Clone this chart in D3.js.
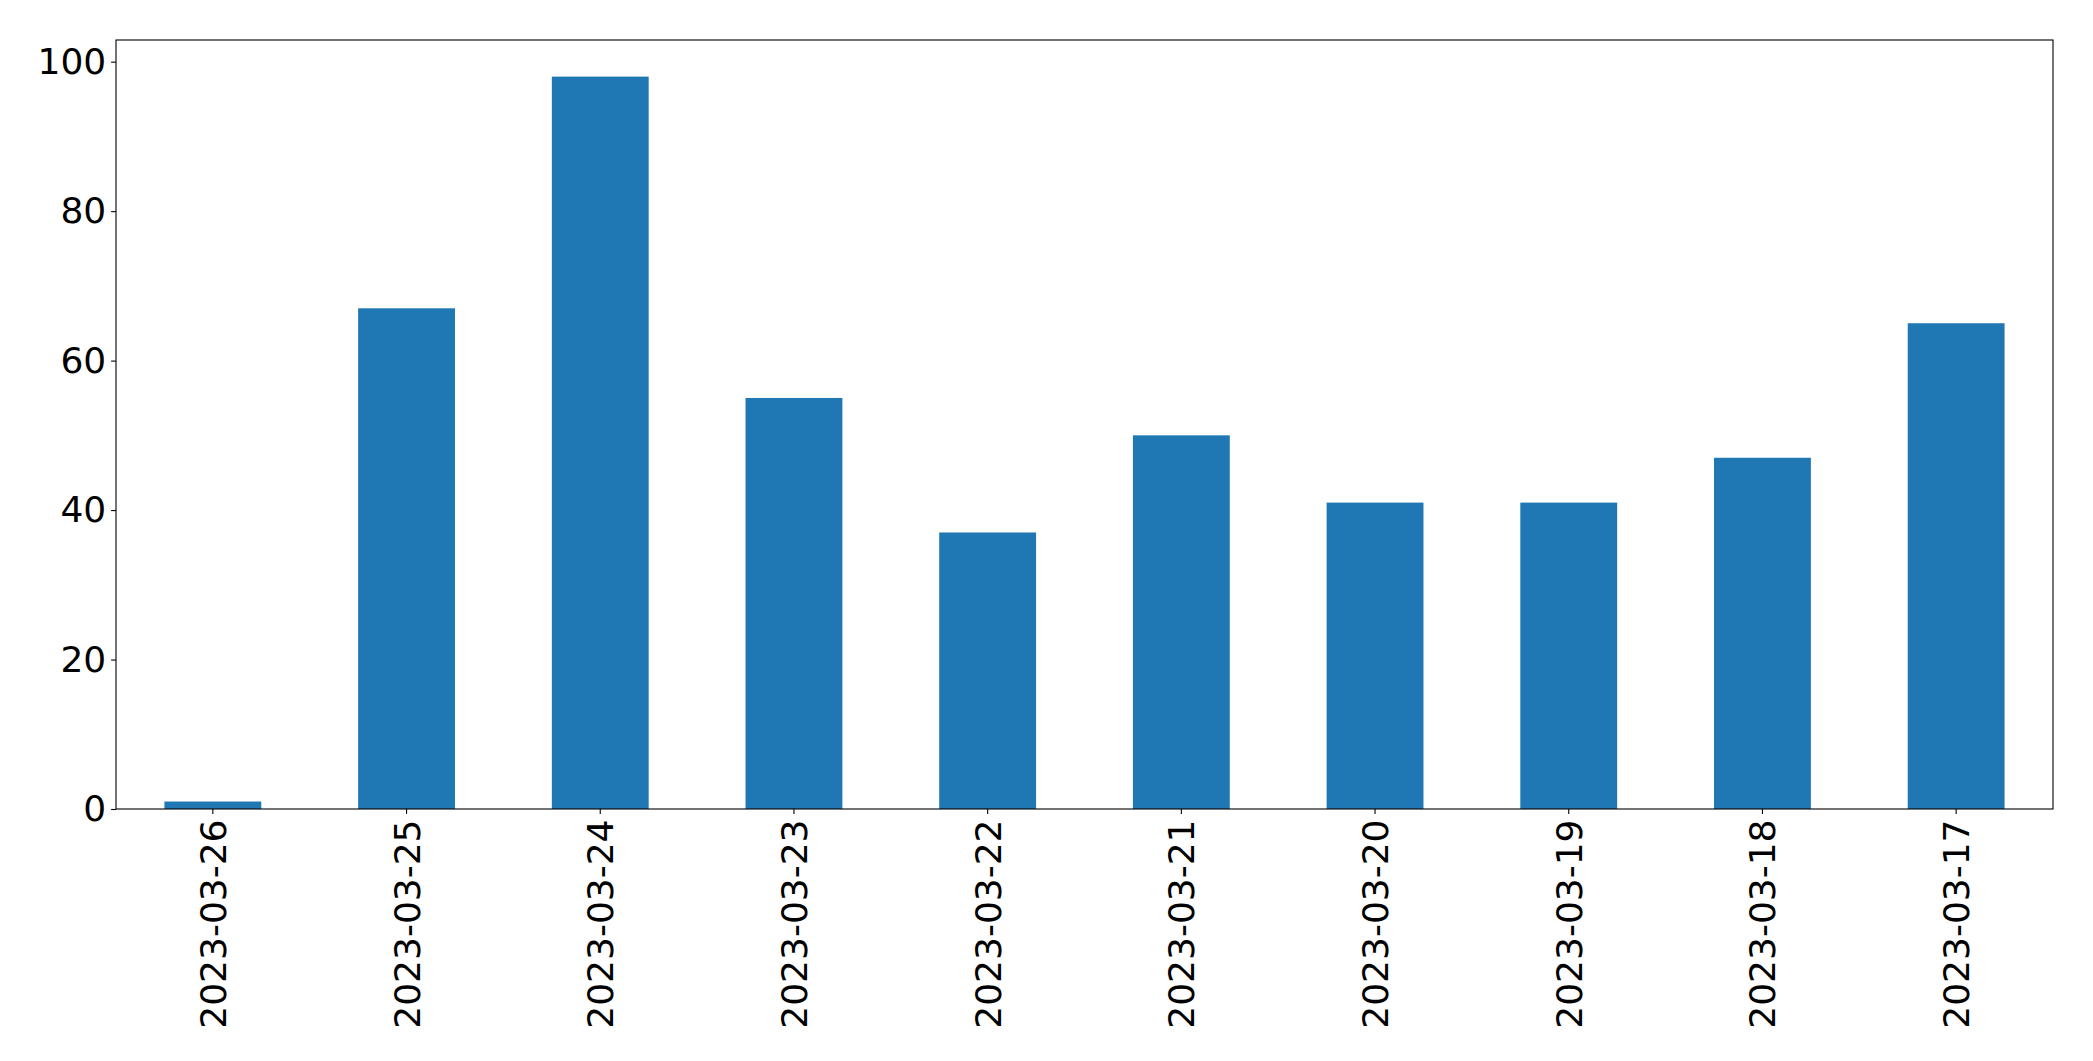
<!DOCTYPE html>
<html>
<head>
<meta charset="utf-8">
<title>Bar chart</title>
<script src="https://d3js.org/d3.v7.min.js"></script>
<style>
html, body {
  margin: 0;
  background: #fff;
}
.axis text {
  font-family: "DejaVu Sans", sans-serif;
  font-size: 36px;
  fill: #000;
}
.axis line {
  stroke: #000;
  stroke-width: 1.1px;
}
</style>
</head>
<body>
<div id="chart"></div>
<script>
// data
var dates = ["2023-03-26", "2023-03-25", "2023-03-24", "2023-03-23", "2023-03-22",
             "2023-03-21", "2023-03-20", "2023-03-19", "2023-03-18", "2023-03-17"];
var counts = [1, 67, 98, 55, 37, 50, 41, 41, 47, 65];
var yTicks = [0, 20, 40, 60, 80, 100];

var W = 2093, H = 1061;
var margin = {top: 40, right: 40, bottom: 252, left: 116};
var width = W - margin.left - margin.right,
    height = H - margin.top - margin.bottom;

var svg = d3.select("#chart")
  .append("svg")
    .attr("width", W)
    .attr("height", H)
  .append("g")
    .attr("transform", "translate(" + margin.left + "," + margin.top + ")");

// categorical x, bars half the slot wide (like pandas)
var x = d3.scaleBand()
  .domain(dates)
  .range([0, width])
  .paddingInner(0.5)
  .paddingOuter(0.25);

// matplotlib style 5% headroom
var y = d3.scaleLinear()
  .domain([0, d3.max(counts) * 1.05])
  .range([height, 0]);

svg.selectAll(".bar")
  .data(counts)
  .enter()
  .append("rect")
    .attr("class", "bar")
    .attr("x", function(d, i) { return x(dates[i]); })
    .attr("width", x.bandwidth())
    .attr("y", function(d) { return y(d); })
    .attr("height", function(d) { return height - y(d); })
    .attr("fill", "#1f77b4");

// x axis
var xAxis = svg.append("g")
  .attr("class", "axis")
  .attr("transform", "translate(0," + height + ")")
  .call(d3.axisBottom(x).tickSize(4.9).tickPadding(4.9));
xAxis.select(".domain").remove();
xAxis.selectAll(".tick text")
  .attr("transform", "rotate(-90)")
  .attr("text-anchor", "end")
  .attr("x", -10.5)
  .attr("y", 0)
  .attr("dy", "0.36em");

// y axis
var yAxis = svg.append("g")
  .attr("class", "axis")
  .call(d3.axisLeft(y).tickValues(yTicks).tickSize(4.9).tickPadding(4.9));
yAxis.select(".domain").remove();

// frame
svg.append("rect")
  .attr("x", 0)
  .attr("y", 0)
  .attr("width", width)
  .attr("height", height)
  .attr("fill", "none")
  .attr("stroke", "#000")
  .attr("stroke-width", 1.1);
</script>
</body>
</html>
